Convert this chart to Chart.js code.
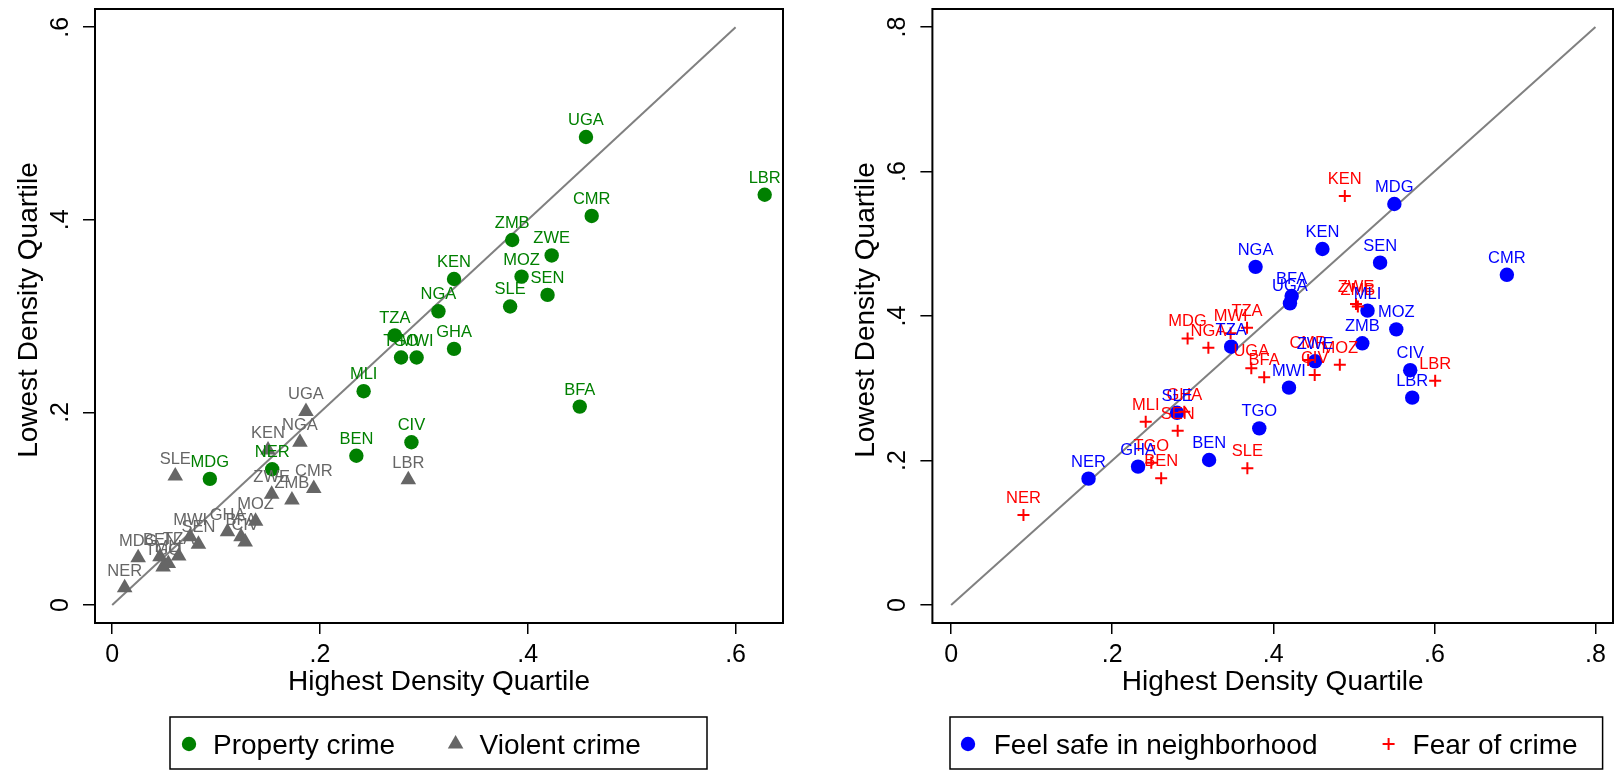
<!DOCTYPE html>
<html>
<head>
<meta charset="utf-8">
<script src="https://cdn.jsdelivr.net/npm/chart.js@4.4.1/dist/chart.umd.min.js"></script>
<style>
  html, body { margin: 0; padding: 0; background: #fff; }
  #wrap { position: relative; width: 1621px; height: 770px; overflow: hidden; }
  canvas { position: absolute; top: 0; }
</style>
</head>
<body>
<div id="wrap">
  <canvas id="left" width="810" height="770" style="left:0"></canvas>
  <canvas id="right" width="811" height="770" style="left:810px"></canvas>
</div>
<script>
// --- DATOS: panel izquierdo (crimen) ---
const propCodes = ['UGA','LBR','CMR','ZMB','ZWE','MOZ','SEN','SLE','KEN','NGA','TZA','TGO','MWI','GHA','MLI','BFA','CIV','BEN','MDG','NER'];
const propX = [0.456,0.628,0.4615,0.385,0.423,0.394,0.419,0.383,0.329,0.314,0.272,0.278,0.293,0.329,0.242,0.450,0.288,0.235,0.094,0.154];
const propY = [0.486,0.426,0.404,0.379,0.363,0.341,0.322,0.310,0.3385,0.305,0.280,0.257,0.257,0.266,0.222,0.206,0.169,0.155,0.131,0.141];

const violCodes = ['UGA','NGA','KEN','SLE','CMR','ZWE','ZMB','MOZ','GHA','BFA','CIV','SEN','MWI','MDG','BEN','TZA','TGO','MLI','NER','LBR'];
const violX = [0.1865,0.1807,0.150,0.0607,0.194,0.1535,0.173,0.138,0.111,0.124,0.128,0.083,0.075,0.025,0.046,0.064,0.049,0.054,0.012,0.285];
const violY = [0.201,0.169,0.161,0.134,0.121,0.115,0.109,0.087,0.076,0.071,0.0655,0.063,0.071,0.049,0.050,0.051,0.0395,0.043,0.018,0.130];

// --- DATOS: panel derecho (seguridad) ---
const safeCodes = ['NER','GHA','BEN','TGO','SLE','MWI','TZA','UGA','BFA','NGA','KEN','SEN','MDG','ZWE','MLI','MOZ','ZMB','CIV','LBR','CMR'];
const safeX = [0.1706,0.2321,0.3203,0.3826,0.2805,0.4195,0.3477,0.4207,0.4228,0.378,0.461,0.5326,0.5503,0.4519,0.517,0.5527,0.5105,0.570,0.5725,0.690];
const safeY = [0.1749,0.1915,0.2007,0.2445,0.266,0.3008,0.3575,0.4175,0.4277,0.468,0.4927,0.4738,0.555,0.3373,0.4074,0.3815,0.3622,0.325,0.287,0.457];

const fearCodes = ['NER','TGO','BEN','SLE','MLI','SEN','GHA','MDG','NGA','MWI','TZA','UGA','BFA','CMR','CIV','ZWE','ZMB','MOZ','LBR','KEN'];
const fearX = [0.0898,0.2485,0.2608,0.3678,0.2416,0.2813,0.2895,0.2936,0.3194,0.347,0.3674,0.3727,0.3887,0.4433,0.4514,0.5027,0.505,0.4826,0.601,0.4888];
const fearY = [0.1246,0.197,0.1753,0.1892,0.2537,0.2413,0.2676,0.369,0.356,0.376,0.3838,0.3276,0.3152,0.339,0.3183,0.4166,0.413,0.3326,0.3105,0.566];

// Linea de 45 grados y marcas de los ejes
const diagLeft = [0, 0.6];
const diagRight = [0, 0.8];
const ticksLeft = [0, 0.2, 0.4, 0.6];
const ticksRight = [0, 0.2, 0.4, 0.6, 0.8];

const xTitle = 'Highest Density Quartile';
const yTitle = 'Lowest Density Quartile';

const FONT = "'Liberation Sans', Arial, Helvetica, sans-serif";
const GREEN = '#008000', GRAY = '#666666', BLUE = '#0000ff', RED = '#ff0000';

function fmt(v) {
    return v === 0 ? '0' : String(v).replace(/^0/, '');
}

function toPoints(xs, ys) {
    return xs.map((x, i) => ({ x: x, y: ys[i] }));
}

// simbolo de la leyenda (no son datos)
function legendMarker(ctx, style, color, x, y) {
    ctx.save();
    ctx.fillStyle = color;
    ctx.strokeStyle = color;
    ctx.beginPath();
    if (style === 'circle') {
        ctx.arc(x, y, 7.2, 0, Math.PI * 2);
        ctx.fill();
    } else if (style === 'triangle') {
        const r = 9;
        ctx.moveTo(x, y - r);
        ctx.lineTo(x + r * 0.866, y + r / 2);
        ctx.lineTo(x - r * 0.866, y + r / 2);
        ctx.closePath();
        ctx.fill();
    } else {
        ctx.lineWidth = 2;
        ctx.moveTo(x - 6, y); ctx.lineTo(x + 6, y);
        ctx.moveTo(x, y - 6); ctx.lineTo(x, y + 6);
        ctx.stroke();
    }
    ctx.restore();
}

// Etiquetas de pais encima de cada marcador
const pointLabels = {
    id: 'pointLabels',
    afterDatasetsDraw(chart) {
        const ctx = chart.ctx;
        ctx.save();
        ctx.font = `16.5px ${FONT}`;
        ctx.textAlign = 'center';
        ctx.textBaseline = 'alphabetic';
        chart.data.datasets.forEach((ds, i) => {
            if (!ds.codes) return;
            ctx.fillStyle = ds.labelColor;
            chart.getDatasetMeta(i).data.forEach((pt, j) => {
                ctx.fillText(ds.codes[j], pt.x, pt.y - 12);
            });
        });
        ctx.restore();
    }
};

// Marco, textos de ejes y leyenda estilo Stata
const decor = {
    id: 'decor',
    afterDraw(chart, args, o) {
        const ctx = chart.ctx;
        const a = chart.chartArea;
        const sx = chart.scales.x, sy = chart.scales.y;
        ctx.save();
        ctx.strokeStyle = '#000';
        ctx.lineWidth = 2;
        ctx.strokeRect(a.left, a.top, a.right - a.left, a.bottom - a.top);

        ctx.fillStyle = '#000';
        ctx.font = `25px ${FONT}`;
        ctx.textAlign = 'center';
        ctx.textBaseline = 'alphabetic';
        sx.ticks.forEach(t => ctx.fillText(fmt(t.value), sx.getPixelForValue(t.value), 662));
        sy.ticks.forEach(t => {
            ctx.save();
            ctx.translate(o.yTickX, sy.getPixelForValue(t.value));
            ctx.rotate(-Math.PI / 2);
            ctx.fillText(fmt(t.value), 0, 0);
            ctx.restore();
        });

        ctx.font = `28px ${FONT}`;
        ctx.fillText(xTitle, (a.left + a.right) / 2, 690);
        ctx.save();
        ctx.translate(o.yTitleX, o.yTitleY);
        ctx.rotate(-Math.PI / 2);
        ctx.fillText(yTitle, 0, 0);
        ctx.restore();

        // leyenda
        const L = o.legend;
        ctx.lineWidth = 1.5;
        ctx.strokeRect(L.left, 717, L.right - L.left, 52);
        ctx.textAlign = 'left';
        L.items.forEach(it => {
            legendMarker(ctx, it.style, it.color, it.mx, 744);
            ctx.fillStyle = '#000';
            ctx.fillText(it.text, it.tx, 754);
        });
        ctx.restore();
    }
};

function makePanel(id, p) {
    const datasets = p.series.map(s => ({
        label: s.name,
        data: toPoints(s.x, s.y),
        codes: s.codes,
        labelColor: s.color,
        pointStyle: s.style,
        pointRadius: s.radius,
        pointBackgroundColor: s.color,
        pointBorderColor: s.color,
        pointBorderWidth: s.style === 'cross' ? 2 : 0
    }));
    // la diagonal va al final para quedar debajo de los puntos
    datasets.push({
        label: '45',
        data: toPoints(p.diag, p.diag),
        showLine: true,
        pointRadius: 0,
        borderColor: '#808080',
        borderWidth: 2
    });

    new Chart(document.getElementById(id), {
        type: 'scatter',
        data: { datasets: datasets },
        options: {
            responsive: false,
            animation: false,
            layout: { padding: { top: 9, right: p.padRight, bottom: 0, left: 0 } },
            plugins: {
                legend: { display: false },
                tooltip: { enabled: false },
                decor: p.decor
            },
            scales: {
                x: {
                    type: 'linear', min: p.xMin, max: p.xMax,
                    afterFit: s => { s.height = 147; },
                    afterBuildTicks: s => { s.ticks = p.ticks.map(v => ({ value: v })); },
                    ticks: { display: false },
                    grid: { drawOnChartArea: false, drawTicks: true, tickLength: 11, color: '#000', lineWidth: 1.5 },
                    border: { display: false }
                },
                y: {
                    type: 'linear', min: p.yMin, max: p.yMax,
                    afterFit: s => { s.width = p.yAxisWidth; },
                    afterBuildTicks: s => { s.ticks = p.ticks.map(v => ({ value: v })); },
                    ticks: { display: false },
                    grid: { drawOnChartArea: false, drawTicks: true, tickLength: 12, color: '#000', lineWidth: 1.5 },
                    border: { display: false }
                }
            }
        },
        plugins: [pointLabels, decor]
    });
}

makePanel('left', {
    series: [
        { name: 'Property crime', codes: propCodes, x: propX, y: propY, color: GREEN, style: 'circle', radius: 7.2 },
        { name: 'Violent crime', codes: violCodes, x: violX, y: violY, color: GRAY, style: 'triangle', radius: 9 }
    ],
    diag: diagLeft,
    ticks: ticksLeft,
    xMin: -0.01655, xMax: 0.64562,
    yMin: -0.01869, yMax: 0.61890,
    yAxisWidth: 95,
    padRight: 27,
    decor: {
        yTickX: 68, yTitleX: 36.5, yTitleY: 310,
        legend: {
            left: 170, right: 707,
            items: [
                { style: 'circle', color: GREEN, mx: 189, tx: 213, text: 'Property crime' },
                { style: 'triangle', color: GRAY, mx: 455.6, tx: 479.6, text: 'Violent crime' }
            ]
        }
    }
});

makePanel('right', {
    series: [
        { name: 'Fear of crime', codes: fearCodes, x: fearX, y: fearY, color: RED, style: 'cross', radius: 6 },
        { name: 'Feel safe in neighborhood', codes: safeCodes, x: safeX, y: safeY, color: BLUE, style: 'circle', radius: 7.2 }
    ],
    diag: diagRight,
    ticks: ticksRight,
    xMin: -0.02325, xMax: 0.82177,
    yMin: -0.02491, yMax: 0.82491,
    yAxisWidth: 122.4,
    padRight: 1.6,
    decor: {
        yTickX: 95.4, yTitleX: 63.9, yTitleY: 310,
        legend: {
            left: 140, right: 792.6,
            items: [
                { style: 'circle', color: BLUE, mx: 158, tx: 183.7, text: 'Feel safe in neighborhood' },
                { style: 'cross', color: RED, mx: 578.6, tx: 602.6, text: 'Fear of crime' }
            ]
        }
    }
});
</script>
</body>
</html>
